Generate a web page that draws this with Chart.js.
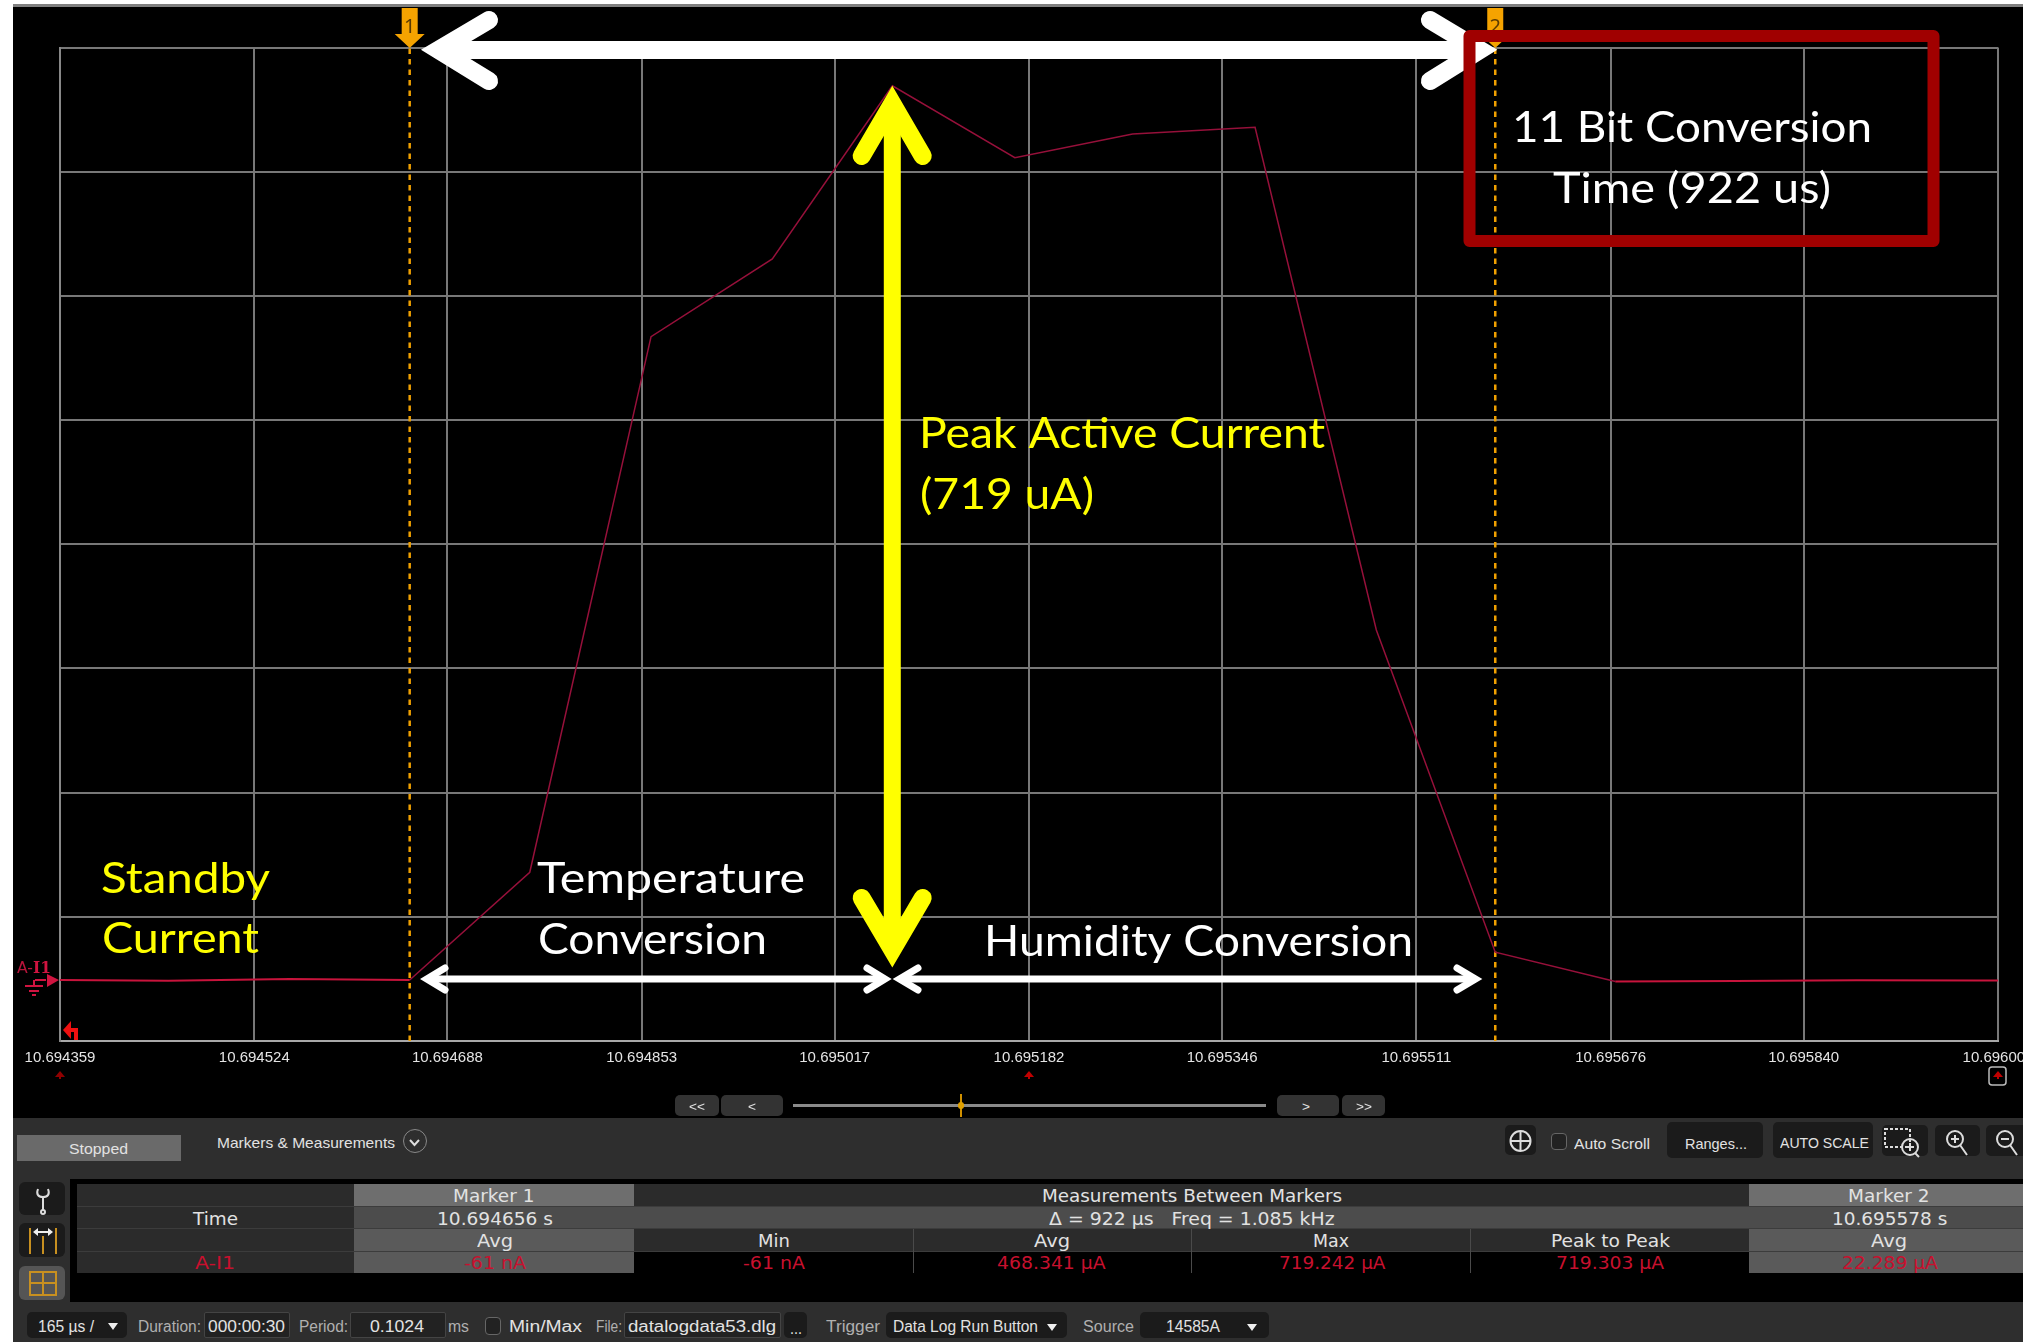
<!DOCTYPE html>
<html>
<head>
<meta charset="utf-8">
<title>Datalog trace</title>
<script src="https://cdn.jsdelivr.net/npm/chart.js@4"></script>
<style>
  html,body{margin:0;padding:0;background:#fff;}
  #page{position:relative;width:2023px;height:1342px;overflow:hidden;}
  #trace{position:absolute;left:0;top:0;}
  .lbl{position:absolute;white-space:pre;line-height:1;transform-origin:left center;}
  .box{position:absolute;box-sizing:border-box;}
</style>
</head>
<body>
<div id="page"><canvas id="trace" width="2023" height="1342"></canvas></div>
<script>
/* ================================
   CHART DATA
================================ */

const tickLabels=["10.694359","10.694524","10.694688","10.694853","10.695017","10.695182","10.695346","10.695511","10.695676","10.695840","10.696005"];
const yGridValues=[-49.1,50.8,150.7,250.6,350.5,450.4,550.3,650.1,750];

// one sample every 102.4 us, current in uA
const sampleTimes=[10.694349,10.694451,10.694554,10.694656,10.694758,10.694861,10.694964,10.695066,10.695170,10.695270,10.695374,10.695477,10.695578,10.695680,10.695782,10.695885,10.695987,10.696090];
const sampleCurrent=[0,-0.6,0.8,-0.06,86.6,517.4,579.9,719.2,661.4,680.4,685.8,281.5,22.3,-1.2,-0.9,-0.3,-0.5,0.1];

const markerTimes=[10.694656,10.695578];
const markerNames=["1","2"];

/* ================================
   HELPERS
================================ */

const page=document.getElementById("page");
const RED="#c8102e";

function box(x,y,w,h,bg,radius,border){
    const d=document.createElement("div");
    d.className="box";
    d.style.cssText=`left:${x}px;top:${y}px;width:${w}px;height:${h}px;background:${bg};border-radius:${radius||0}px;${border?"border:"+border+";":""}`;
    page.appendChild(d);
    return d;
}

// text squeezed to the width it has in the screenshot
function label(text,x0,x1,cy,color,size,family){
    const d=document.createElement("div");
    d.className="lbl";
    d.textContent=text;
    d.style.cssText=`left:${x0}px;top:${cy-size/2}px;color:${color};font-size:${size}px;font-family:${family||"'Liberation Sans'"};`;
    page.appendChild(d);
    d.style.transform=`scaleX(${(x1-x0)/d.getBoundingClientRect().width})`;
}

function stroked(ctx,color,width,pts,cap){
    ctx.beginPath();
    ctx.strokeStyle=color;
    ctx.lineWidth=width;
    ctx.lineCap=cap||"round";
    ctx.lineJoin="miter";
    ctx.miterLimit=10;
    pts.forEach((p,i)=>i?ctx.lineTo(p[0],p[1]):ctx.moveTo(p[0],p[1]));
    ctx.stroke();
}

function fitText(ctx,text,x0,x1,base,color,font){
    ctx.save();
    ctx.font=font;
    ctx.fillStyle=color;
    ctx.textAlign="left";
    ctx.textBaseline="alphabetic";
    ctx.translate(x0,base);
    ctx.scale((x1-x0)/ctx.measureText(text).width,1);
    ctx.fillText(text,0,0);
    ctx.restore();
}

/* ================================
   BACKGROUND + ANNOTATIONS
================================ */

const scopeBackground={
    id:"scopeBackground",
    beforeDraw(chart){
        const ctx=chart.ctx;
        ctx.save();
        ctx.fillStyle="#000";
        ctx.fillRect(13,7,2010,1111);
        ctx.fillStyle="#808080";
        ctx.fillRect(13,4,2010,3);
        ctx.restore();
    }
};

const annotations={
    id:"annotations",
    afterDatasetsDraw(chart){

        const ctx=chart.ctx;
        const xs=chart.scales.x;
        ctx.save();

        /* marker flags */

        markerTimes.forEach((t,i)=>{
            const x=xs.getPixelForValue(t);
            ctx.fillStyle="#f5a300";
            ctx.beginPath();
            ctx.moveTo(x-8,8);ctx.lineTo(x+8,8);ctx.lineTo(x+8,34);ctx.lineTo(x+15,34);
            ctx.lineTo(x,48);ctx.lineTo(x-15,34);ctx.lineTo(x-8,34);
            ctx.closePath();
            ctx.fill();
            ctx.fillStyle="#5a3a00";
            ctx.font="20px 'Noto Sans'";
            ctx.textAlign="center";
            ctx.fillText(markerNames[i],x,33);
        });

        /* white span arrow on top */

        stroked(ctx,"#fff",18,[[438,50],[1480,50]],"butt");
        stroked(ctx,"#fff",18,[[489,20],[438.4,50],[489,81]]);
        stroked(ctx,"#fff",18,[[1430,20],[1480,50],[1430,81]]);

        /* yellow peak arrow */

        stroked(ctx,"#ffff00",17,[[892.3,104],[892.3,950]],"butt");
        stroked(ctx,"#ffff00",18,[[861.7,156],[892.3,103.7],[922.7,156]]);
        stroked(ctx,"#ffff00",18,[[861.7,898],[892.3,949.7],[922.7,898]]);

        /* white conversion arrows */

        stroked(ctx,"#fff",7,[[427,979],[885,979]],"butt");
        stroked(ctx,"#fff",7,[[445,968],[426.8,979],[445,990]]);
        stroked(ctx,"#fff",7,[[867,968],[885,979],[867,990]]);
        stroked(ctx,"#fff",7,[[899,979],[1476,979]],"butt");
        stroked(ctx,"#fff",7,[[918,968],[899.5,979],[918,990]]);
        stroked(ctx,"#fff",7,[[1457,968],[1475.5,979],[1457,990]]);

        /* red box */

        ctx.strokeStyle="#a00000";
        ctx.lineWidth=12;
        ctx.lineJoin="round";
        ctx.strokeRect(1469.5,36,464,205);

        /* captions */

        const font="43px Lato";
        fitText(ctx,"11 Bit Conversion",1512,1872,141.5,"#fff",font);
        fitText(ctx,"Time (922 us)",1553,1831,202.7,"#fff",font);
        fitText(ctx,"Peak Active Current",919,1325,448,"#ffff00",font);
        fitText(ctx,"(719 uA)",920,1094,509,"#ffff00",font);
        fitText(ctx,"Standby",101,270,893,"#ffff00",font);
        fitText(ctx,"Current",102,259,953,"#ffff00",font);
        fitText(ctx,"Temperature",537,805,892.7,"#fff",font);
        fitText(ctx,"Conversion",538,767,954.3,"#fff",font);
        fitText(ctx,"Humidity Conversion",984,1413,955.5,"#fff",font);

        /* channel tag at the left */

        fitText(ctx,"A-",17,33,973,"#b8143a","15px 'DejaVu Sans'");
        fitText(ctx,"I1",33,51,973,"#d01440","bold 16px 'DejaVu Serif'");
        stroked(ctx,"#d01440",2,[[35,980],[46,980]],"butt");
        ctx.fillStyle="#d01440";
        ctx.beginPath();ctx.moveTo(47,974);ctx.lineTo(59,980);ctx.lineTo(47,987);ctx.closePath();ctx.fill();
        stroked(ctx,"#d01440",2,[[34,980],[34,986]],"butt");
        stroked(ctx,"#d01440",2,[[25,986],[43,986]],"butt");
        stroked(ctx,"#d01440",2,[[29,991],[39,991]],"butt");
        stroked(ctx,"#d01440",2,[[32,995],[36,995]],"butt");

        /* trigger return icon */

        stroked(ctx,"#f01010",4,[[76,1040],[76,1030],[68,1030]],"butt");
        ctx.fillStyle="#f01010";
        ctx.beginPath();ctx.moveTo(63,1030);ctx.lineTo(71,1021);ctx.lineTo(71,1039);ctx.closePath();ctx.fill();

        /* little red ticks below the axis */

        [0,5,10].forEach(i=>{
            const x=xs.getPixelForValue(Number(tickLabels[i]));
            ctx.fillStyle=i?"#c00000":"#900000";
            ctx.beginPath();ctx.moveTo(x,1071);ctx.lineTo(x+5,1077);ctx.lineTo(x-5,1077);ctx.closePath();ctx.fill();
            ctx.fillRect(x-1,1076,2,3);
        });
        ctx.strokeStyle="#bbb";
        ctx.lineWidth=1.5;
        ctx.beginPath();
        ctx.roundRect(1989,1067,17,18,3);
        ctx.stroke();

        ctx.restore();
    }
};

/* ================================
   THE TRACE
================================ */

const tracePoints=sampleTimes.map((t,i)=>({x:t,y:sampleCurrent[i]}));

const markerSets=markerTimes.map(t=>({
    data:[{x:t,y:yGridValues[0]},{x:t,y:yGridValues[yGridValues.length-1]}],
    borderColor:"#f0a000",
    borderWidth:2.5,
    borderDash:[5.5,5],
    pointRadius:0,
    order:2
}));

new Chart(document.getElementById("trace").getContext("2d"),{

    type:"line",

    data:{
        datasets:[{
            label:"A-I1",
            data:tracePoints,
            borderColor:"#96103a",
            borderWidth:1.5,
            pointRadius:0,
            tension:0,
            order:1,
            segment:{
                borderColor:ctx=>(Math.abs(ctx.p0.parsed.y)<2 && Math.abs(ctx.p1.parsed.y)<2) ? "#c8143c" : undefined,
                borderWidth:ctx=>(Math.abs(ctx.p0.parsed.y)<2 && Math.abs(ctx.p1.parsed.y)<2) ? 2 : undefined
            }
        }].concat(markerSets)
    },

    options:{
        responsive:false,
        animation:false,
        layout:{padding:{top:47.5,right:25,left:0,bottom:0}},
        plugins:{
            legend:{display:false},
            tooltip:{enabled:false}
        },
        scales:{
            x:{
                type:"linear",
                min:Number(tickLabels[0]),
                max:Number(tickLabels[tickLabels.length-1]),
                afterBuildTicks:axis=>{
                    axis.ticks=tickLabels.map(v=>({value:Number(v)}));
                },
                afterFit:axis=>{
                    axis.height=301;
                    axis.paddingLeft=0;
                    axis.paddingRight=0;
                },
                grid:{color:"#787878",lineWidth:2,drawTicks:false},
                border:{color:"#a8a8a8",width:2},
                ticks:{
                    autoSkip:false,
                    maxRotation:0,
                    padding:8,
                    color:"#e4e4e4",
                    font:{family:"'Liberation Sans'",size:15},
                    callback:(v,i)=>tickLabels[i]
                }
            },
            y:{
                min:yGridValues[0],
                max:yGridValues[yGridValues.length-1],
                afterBuildTicks:axis=>{
                    axis.ticks=yGridValues.map(v=>({value:v}));
                },
                afterFit:axis=>{
                    axis.width=60;
                },
                grid:{color:"#787878",lineWidth:2,drawTicks:false},
                border:{color:"#888888",width:2},
                ticks:{display:false}
            }
        }
    },

    plugins:[scopeBackground,annotations]

});

/* ================================
   CONTROL PANEL BELOW THE TRACE
================================ */

const PANEL="#2e2e2e", BTN="#1b1b1b", GREY="#b0b0b0", LIGHT="#e2e2e2";
const TABLE="'DejaVu Sans'";

box(13,1118,2010,61,PANEL);
box(13,1179,2010,123,"#000");
box(13,1179,57,123,PANEL);
box(13,1302,2010,40,PANEL);

/* slider row */

box(675,1095,44,21,"#333",5);
box(721,1095,62,21,"#333",5);
box(1277,1095,62,21,"#333",5);
box(1342,1095,43,21,"#333",5);
label("<<",689,705,1106,LIGHT,13);
label("<",748,756,1106,LIGHT,13);
label(">",1302,1310,1106,LIGHT,13);
label(">>",1356,1372,1106,LIGHT,13);
box(793,1104,473,3,"#8a8a8a");
box(960,1094,2,23,"#d09000");
box(958,1102,6,7,"#e0a000",3);

/* toolbar row */

box(17,1135,164,26,"#6a6a6a");
label("Stopped",69,128,1148,LIGHT,15);
label("Markers & Measurements",217,395,1142,LIGHT,15);
box(402.5,1129,24,24,"transparent",12,"1.5px solid #888");
box(1505,1125,31,30,BTN,5);
box(1551,1133,16,17,"#222",4,"1px solid #666");
label("Auto Scroll",1574,1650,1143,LIGHT,15);
box(1667,1122,96,36,BTN,5);
label("Ranges...",1685,1747,1143,LIGHT,15);
box(1773,1122,100,36,BTN,5);
label("AUTO SCALE",1780,1869,1142,LIGHT,15);
box(1882,1125,46,31,BTN,5);
box(1935,1125,45,31,BTN,5);
box(1986,1125,45,31,BTN,5);

/* measurement table */

const rowY=[1184.3,1206.7,1229.3,1252,1273.5];
const colX=[76.5,354,634,1749,2023];
const cellColors=[
    ["#2b2b2b","#6e6e6e","#2b2b2b","#6e6e6e"],
    ["#2b2b2b","#4c4c4c","#4c4c4c","#4c4c4c"],
    ["#2b2b2b","#5a5a5a","#2b2b2b","#5a5a5a"],
    ["#2b2b2b","#5a5a5a","#000000","#5a5a5a"]
];

box(76.5,1184.3,1946.5,89.2,"#3c3c3c");

cellColors.forEach((row,r)=>{
    row.forEach((c,i)=>{
        box(colX[i],rowY[r],colX[i+1]-colX[i],rowY[r+1]-rowY[r]-1,c);
    });
});

[912.6,1191,1469.7].forEach(x=>box(x,1229.3,1,44,"#4a4a4a"));

label("Marker 1",453,534.4,1196,LIGHT,17,TABLE);
label("Measurements Between Markers",1042.4,1342.5,1196,LIGHT,17,TABLE);
label("Marker 2",1848,1929.6,1196,LIGHT,17,TABLE);

label("Time",193,238,1219,LIGHT,17,TABLE);
label("10.694656 s",437,553,1219,LIGHT,17,TABLE);
label("Δ = 922 µs   Freq = 1.085 kHz",1049,1334.6,1219,LIGHT,17,TABLE);
label("10.695578 s",1831.7,1947,1219,LIGHT,17,TABLE);

label("Avg",477,513,1241,LIGHT,17,TABLE);
label("Min",757.6,789.5,1241,LIGHT,17,TABLE);
label("Avg",1034,1070,1241,LIGHT,17,TABLE);
label("Max",1313,1349,1241,LIGHT,17,TABLE);
label("Peak to Peak",1551,1670,1241,LIGHT,17,TABLE);
label("Avg",1871,1907,1241,LIGHT,17,TABLE);

label("A-I1",194.5,234.7,1263,RED,17,TABLE);
label("-61 nA",464,526,1263,RED,17,TABLE);
label("-61 nA",743,805,1263,RED,17,TABLE);
label("468.341 µA",997,1105.7,1263,RED,17,TABLE);
label("719.242 µA",1278.5,1385,1263,RED,17,TABLE);
label("719.303 µA",1556,1664,1263,RED,17,TABLE);
label("22.289 µA",1841.5,1937.4,1263,RED,17,TABLE);

/* icon buttons left of the table */

box(19,1182,46,33,BTN,6);
box(19,1223,46,34,BTN,6);
box(19,1266,46,34,"#555",6);

/* bottom status strip */

box(27,1312,100,26,BTN,5);
label("165 µs /",38,94,1327,LIGHT,16);
label("Duration:",138,201,1327,GREY,16);
box(204,1312,86,26,"#222",2,"1px solid #444");
label("000:00:30",208,285,1327,LIGHT,16);
label("Period:",298.5,347.6,1327,GREY,16);
box(349.5,1312,96.5,26,"#222",2,"1px solid #444");
label("0.1024",370,424,1327,LIGHT,16);
label("ms",448,469,1327,GREY,16);
box(485,1317,16,18,"#222",4,"1px solid #666");
label("Min/Max",509,582,1327,LIGHT,16);
label("File:",596,622,1327,GREY,16);
box(624,1312,157,26,"#222",2,"1px solid #444");
label("datalogdata53.dlg",628,776,1327,LIGHT,16);
box(784,1312,23,26,BTN,5);
label("...",790,802,1329,LIGHT,16);
label("Trigger",826,880,1327,GREY,16);
box(886,1312,181,26,BTN,5);
label("Data Log Run Button",893,1038,1327,LIGHT,16);
label("Source",1083,1134,1327,GREY,16);
box(1140,1312,129,26,BTN,5);
label("14585A",1166,1220,1327,LIGHT,16);

/* small icons */

const svgNS="http://www.w3.org/2000/svg";
const icons=document.createElementNS(svgNS,"svg");
icons.setAttribute("width","2023");
icons.setAttribute("height","1342");
icons.style.cssText="position:absolute;left:0;top:0;";
icons.innerHTML=`
<g fill="none" stroke="#ddd" stroke-width="2">
  <path d="M410 1140l4.500 5 4.500-5"/>
  <circle cx="1520.500" cy="1141" r="10"/><path d="M1520.500 1131v20M1510.500 1141h20"/>
  <rect x="1885" y="1129" width="25" height="18" stroke-dasharray="3 2"/>
  <circle cx="1910" cy="1147" r="8"/><path d="M1906 1147h8M1910 1143v8M1915 1153l4 4"/>
  <circle cx="1955" cy="1139" r="8"/><path d="M1951 1139h8M1955 1135v8M1960 1145l7 10"/>
  <circle cx="2005" cy="1139" r="8"/><path d="M2001 1139h8M2010 1145l7 10"/>
  <path d="M38 1189c-2 5 0 8 5 8s7-3 5-8M43 1197v14"/><circle cx="43" cy="1212" r="2"/>
</g>
<g fill="none" stroke="#c89020" stroke-width="2">
  <path d="M30 1228v26M43 1236v18M56 1228v26"/>
  <rect x="30" y="1272" width="26" height="23"/><path d="M43 1272v23M30 1283h26"/>
</g>
<g fill="#eee">
  <path d="M33 1232l5-4v8zM53 1232l-5-4v8zM38 1231h10v2h-10z"/>
  <path d="M108 1323h10l-5 7zM1047 1324h10l-5 7zM1247 1324h10l-5 7z"/>
</g>`;
page.appendChild(icons);
</script>
</body>
</html>
